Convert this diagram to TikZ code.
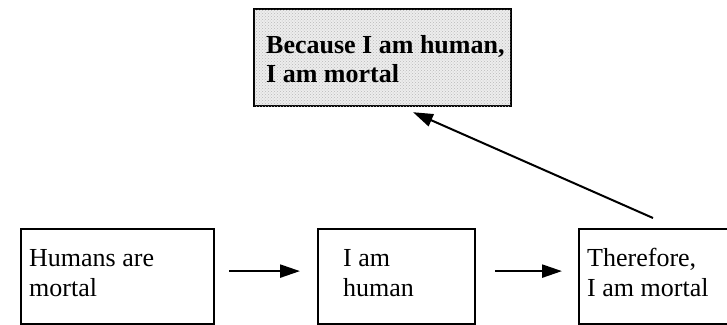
\documentclass[tikz,border=0pt]{standalone}
\usepackage{fontspec}
\setmainfont{Liberation Serif}
\usetikzlibrary{arrows.meta,patterns}
\begin{document}
\begin{tikzpicture}[x=1pt,y=-1pt,
  box/.style={draw=black,line width=2.2pt,rectangle,inner sep=0pt,anchor=north west},
  shaded/.style={fill=gray!14,postaction={pattern=crosshatch dots,pattern color=gray!55}},
  txt/.style={anchor=base west,inner sep=0pt,font=\fontsize{26}{30}\selectfont},
  btxt/.style={txt,font=\fontsize{26}{30}\selectfont\bfseries},
  arr/.style={line width=2.4pt,-{Triangle[length=20pt,width=13pt]}}]
\useasboundingbox (0,0) rectangle (727,324);
\clip (0,0) rectangle (727,324);
\fill[white] (0,0) rectangle (727,324);
% boxes
\node[box,shaded,minimum width=257pt,minimum height=97pt] (top) at (253,8) {};
\node[box,minimum width=193pt,minimum height=95pt] (b1) at (20,228) {};
\node[box,minimum width=157pt,minimum height=95pt] (b2) at (317,228) {};
\node[box,minimum width=170pt,minimum height=95pt] (b3) at (578,228) {};
% texts
\node[btxt] (t1) at (266,53) {Because I am human,};
\node[btxt] (t2) at (266,82) {I am mortal};
\node[txt] (h1) at (29,266) {Humans are};
\node[txt] (h2) at (29,296) {mortal};
\node[txt] (i1) at (343,266) {I am};
\node[txt] (i2) at (343,296) {human};
\node[txt] (r1) at (587,266) {Therefore,};
\node[txt] (r2) at (587,296) {I am mortal};
% connectors
\draw[arr,shorten <=14pt,shorten >=17pt] ([yshift=5.5pt]b1.east) -- ([yshift=5.5pt]b2.west);
\draw[arr,shorten <=19pt,shorten >=16pt] ([yshift=5.5pt]b2.east) -- ([yshift=5.5pt]b3.west);
\draw[arr,line width=2pt] ([xshift=75pt,yshift=10pt]b3.north west) -- ([xshift=160pt,yshift=-5pt]top.south west);
\end{tikzpicture}
\end{document}
